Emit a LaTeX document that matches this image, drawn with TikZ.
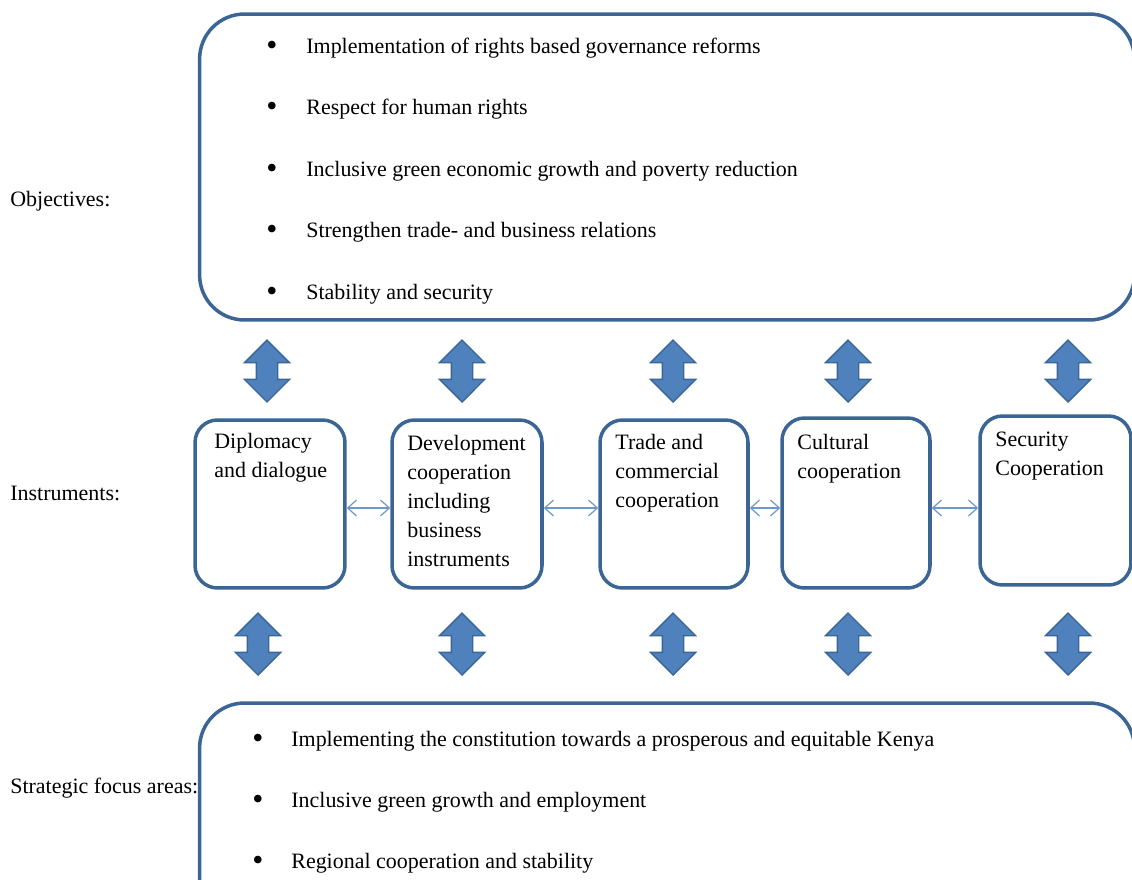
\documentclass[tikz,border=0pt]{standalone}
\usepackage{fontspec}
\setmainfont{Liberation Serif}
\usetikzlibrary{shapes.arrows, arrows.meta, positioning}
\definecolor{box-blue}{HTML}{3B6594}
\definecolor{arrow-blue}{HTML}{4F81BD}
\definecolor{arrow-edge}{HTML}{3A6595}
\definecolor{link-blue}{HTML}{6E98CC}

\begin{document}
\begin{tikzpicture}[x=0.02cm, y=-0.02cm, font=\fontsize{12.5}{16.5}\selectfont,
	bigbox/.style={draw=box-blue, line width=2pt, rounded corners=0.9cm, minimum width=18.7cm},
	instr/.style={draw=box-blue, line width=2pt, rounded corners=0.45cm, minimum width=3cm, minimum height=3.36cm},
	boxtext/.style={anchor=north west, inner sep=0pt, align=left},
	item/.style={anchor=base west, inner sep=0pt},
	dot/.style={anchor=base, inner sep=0pt, font=\fontsize{18}{18}\selectfont},
	lbl/.style={anchor=base west, inner sep=0pt},
	blockarrow/.style={double arrow, rotate=90, draw=arrow-edge, fill=arrow-blue, line width=0.8pt,
		minimum height=1.24cm, minimum width=0.88cm, double arrow head extend=0.24cm, inner sep=0.2cm},
	link/.style={draw=link-blue, line width=0.7pt, {Straight Barb[length=5pt,width=9pt]}-{Straight Barb[length=5pt,width=9pt]}}]
	\clip (0,0) rectangle (1132,879);
	% rows
	\node[lbl] (lobj) at (10,206) {Objectives:};
	\node[lbl] (lins) at (10,500) {Instruments:};
	\node[lbl] (lfoc) at (10,793) {Strategic focus areas:};
	% objectives
	\node[bigbox, minimum height=6.12cm] (obj) at (667,167) {};
	\foreach \txt [count=\i] in {Implementation of rights based governance reforms,
		Respect for human rights,
		Inclusive green economic growth and poverty reduction,
		Strengthen trade- and business relations,
		Stability and security}{
		\node[dot] (objb\i) at (272,{55+61.5*(\i-1)}) {\textbullet};
		\node[item] (obj\i) at (306,{53+61.5*(\i-1)}) {\txt};
	}
	% instruments
	\node[instr] (dip) at (270,504) {};
	\node[instr] (dev) at (467,504) {};
	\node[instr, minimum width=2.96cm] (trade) at (674,504) {};
	\node[instr, minimum width=2.96cm, minimum height=3.4cm] (cult) at (856,503) {};
	\node[instr, minimum width=3.02cm, minimum height=3.38cm] (sec) at (1055.5,500.5) {};
	\node[boxtext] (diptext) at (214,433) {Diplomacy\\and dialogue};
	\node[boxtext] (devtext) at (407,435) {Development\\cooperation\\including\\business\\instruments};
	\node[boxtext] (tradetext) at (615,434) {Trade and\\commercial\\cooperation};
	\node[boxtext] (culttext) at (797,434) {Cultural\\cooperation};
	\node[boxtext] (sectext) at (995,432) {Security\\Cooperation};
	\draw[link] (dip.east |- 0,508) -- (dev.west |- 0,508);
	\draw[link] (dev.east |- 0,508) -- (trade.west |- 0,508);
	\draw[link] (trade.east |- 0,508) -- (cult.west |- 0,508);
	\draw[link] (cult.east |- 0,508) -- (sec.west |- 0,508);
	% block arrows
	\node[blockarrow] (up1) at (267,371) {};
	\node[blockarrow] (up2) at (462,371) {};
	\node[blockarrow] (up3) at (673,371) {};
	\node[blockarrow] (up4) at (848,371) {};
	\node[blockarrow] (up5) at (1068,371) {};
	\node[blockarrow] (dn1) at (258,644) {};
	\node[blockarrow] (dn2) at (462,644) {};
	\node[blockarrow] (dn3) at (673,644) {};
	\node[blockarrow] (dn4) at (848,644) {};
	\node[blockarrow] (dn5) at (1068,644) {};
	% strategic focus areas
	\node[bigbox, minimum height=5.14cm] (foc) at (667,831.5) {};
	\foreach \txt [count=\i] in {Implementing the constitution towards a prosperous and equitable Kenya,
		Inclusive green growth and employment,
		Regional cooperation and stability}{
		\node[dot] (focb\i) at (258,{748+61*(\i-1)}) {\textbullet};
		\node[item] (foc\i) at (291,{746+61*(\i-1)}) {\txt};
	}
\end{tikzpicture}
\end{document}
